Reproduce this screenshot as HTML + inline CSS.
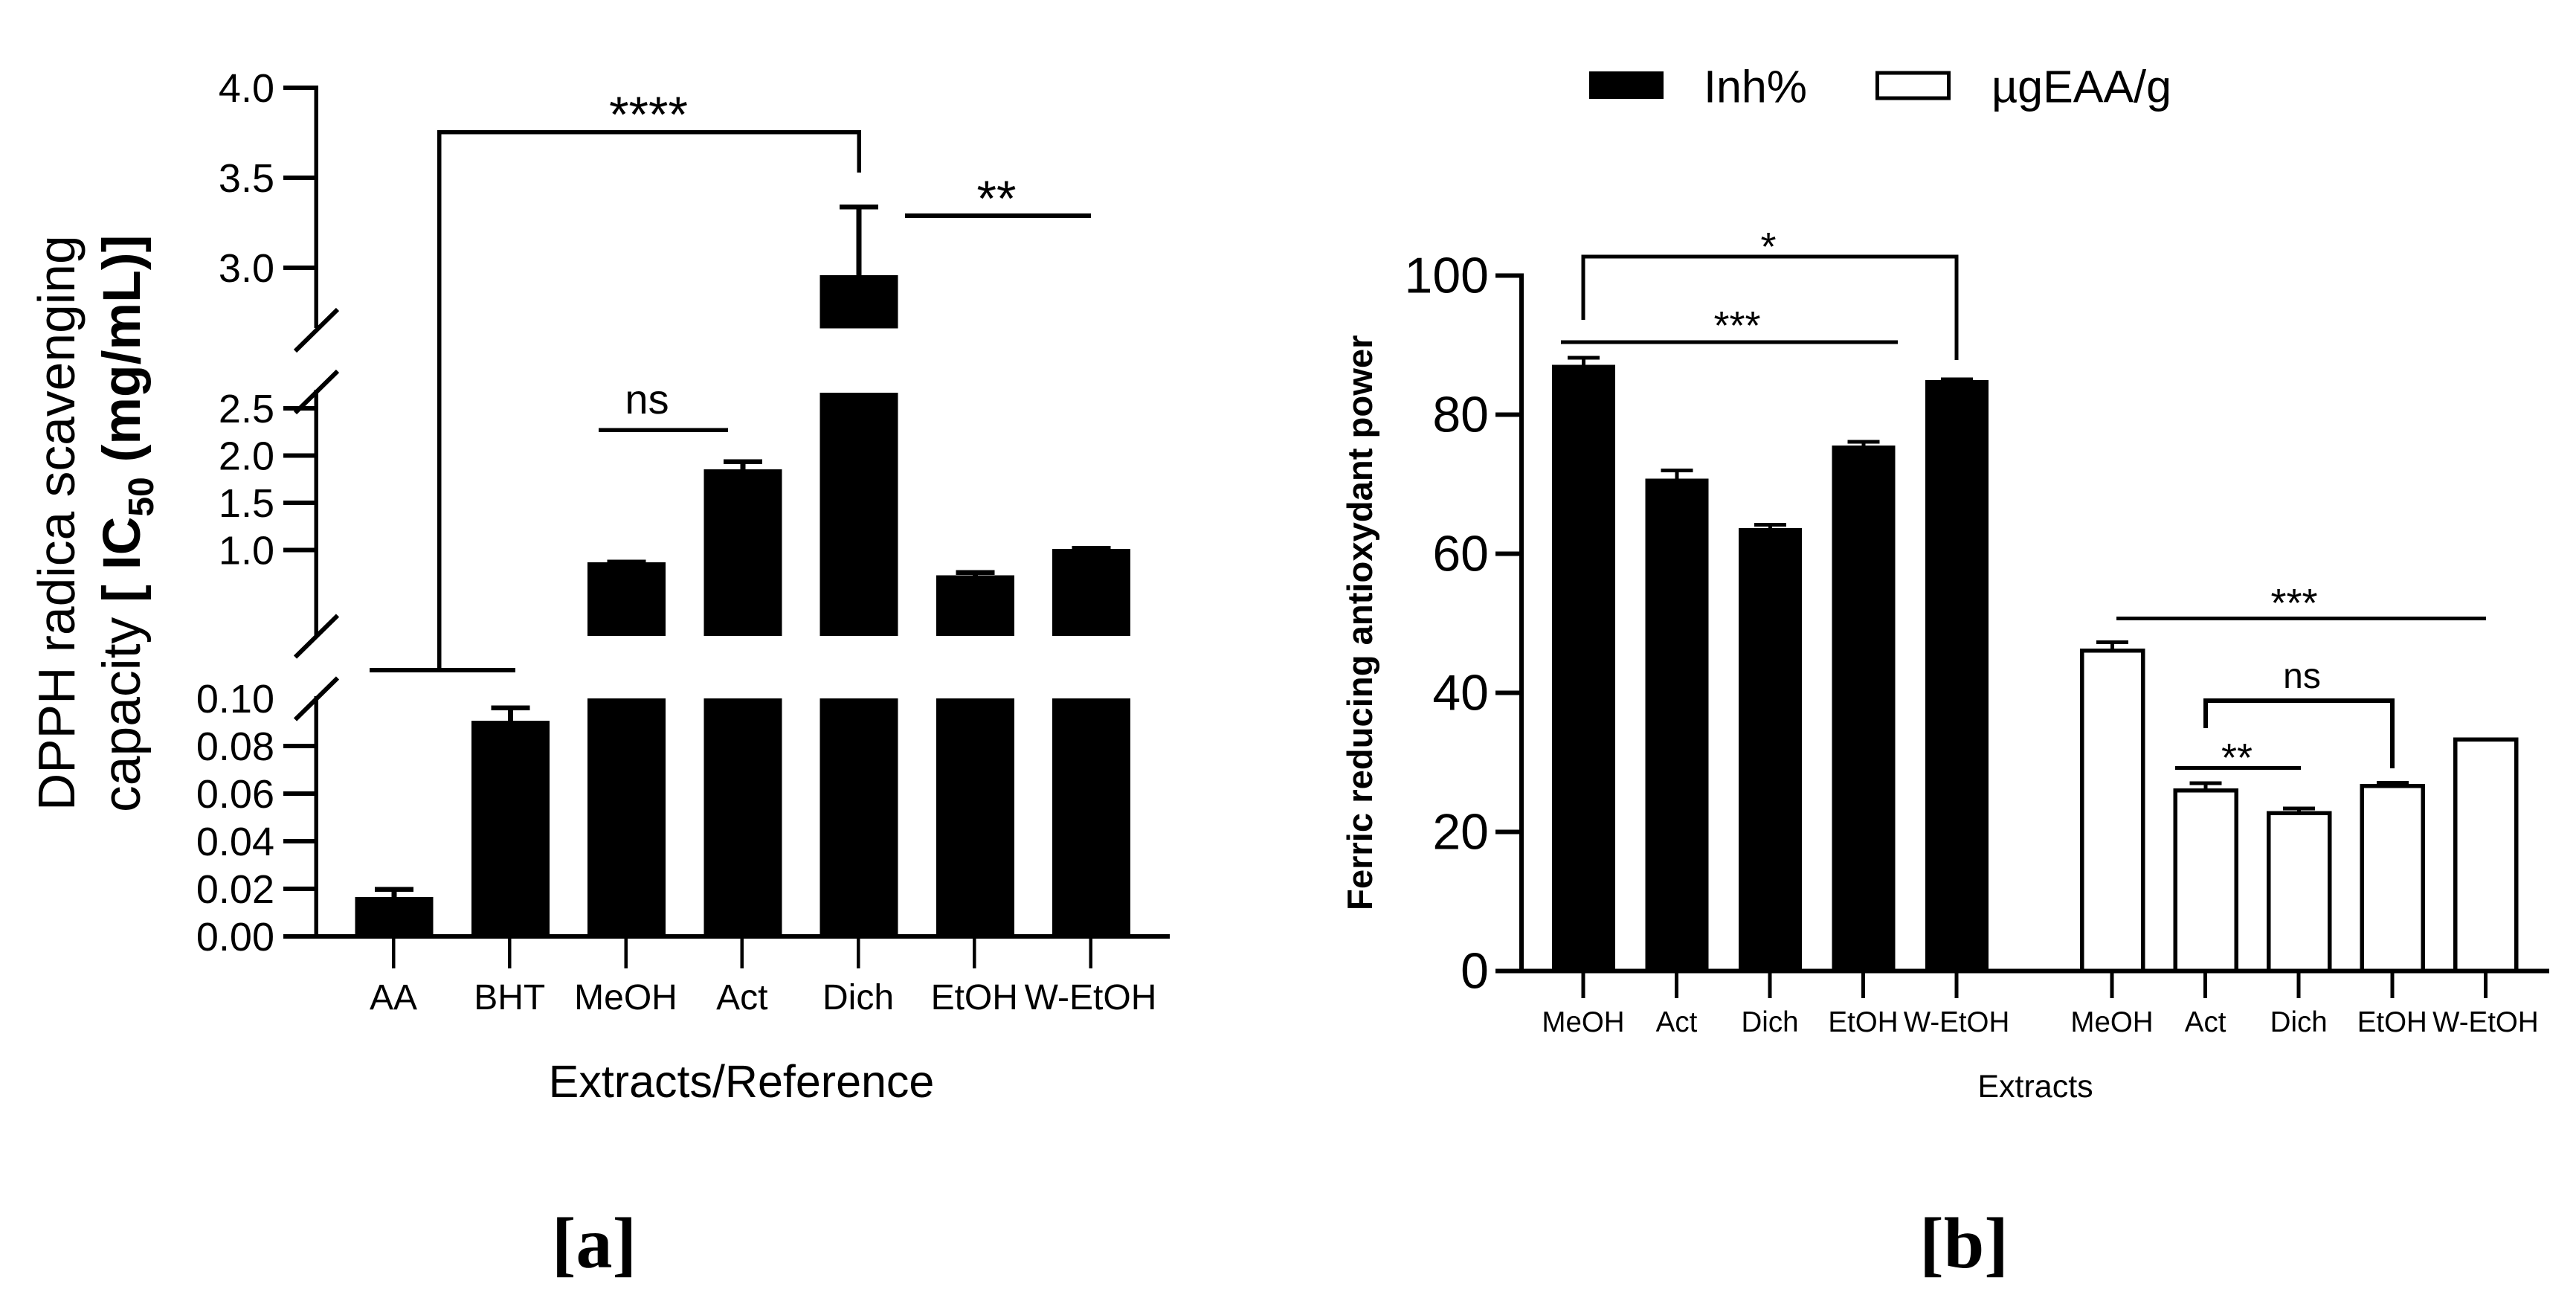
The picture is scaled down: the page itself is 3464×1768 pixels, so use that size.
<!DOCTYPE html>
<html lang="en">
<head>
<meta charset="utf-8">
<title>DPPH radical scavenging and ferric reducing antioxidant power</title>
<style>
  html, body { margin: 0; padding: 0; background: #fff; }
  svg { display: block; font-family: "Liberation Sans", Arial, sans-serif; fill: #000; }
  .ln { fill: none; stroke: #000; stroke-width: 5.5; shape-rendering: crispEdges; }
  .asterisk-a { font-size: 68px; text-anchor: middle; }
  .asterisk-b { font-size: 54px; text-anchor: middle; }
</style>
</head>
<body>
<svg id="figure" xmlns="http://www.w3.org/2000/svg" width="3464" height="1768" viewBox="0 0 3464 1768">
  <rect x="0" y="0" width="3464" height="1768" fill="#fff"></rect>

  <g id="panel-a">
    <text transform="translate(100,1090) rotate(-90)" font-size="69.6">DPPH radica scavenging</text>
    <text transform="translate(188,1092) rotate(-90)" font-size="71.5">capacity <tspan font-weight="700">[ IC</tspan><tspan font-weight="700" font-size="48" dy="18">50</tspan><tspan font-weight="700" dy="-18"> (mg/mL)]</tspan></text>
    <text x="997" y="1475" font-size="61" text-anchor="middle">Extracts/Reference</text>
    <text x="799" y="1704" font-size="98" font-weight="700" text-anchor="middle" style="font-family:'Liberation Serif',serif">[a]</text>

    <polyline class="ln" points="590.5,901 590.5,177.5 1155,177.5 1155,232"></polyline>
    <line class="ln" x1="497" y1="901" x2="693" y2="901" style="stroke-width:6"></line>
    <text class="asterisk-a" x="872" y="177">****</text>
    <line class="ln" x1="805" y1="578" x2="979" y2="578"></line>
    <text x="870" y="556" font-size="56" text-anchor="middle">ns</text>
    <line class="ln" x1="1217" y1="290" x2="1467" y2="290" style="stroke-width:6"></line>
    <text class="asterisk-a" x="1340" y="290">**</text>
  </g>

  <g id="panel-b">
    <text transform="translate(1845,1224) rotate(-90)" font-size="47.2" font-weight="700">Ferric reducing antioxydant power</text>
    <text x="2737" y="1475" font-size="43" text-anchor="middle">Extracts</text>
    <text x="2641" y="1704" font-size="98" font-weight="700" text-anchor="middle" style="font-family:'Liberation Serif',serif">[b]</text>

    <g>
      <rect x="2137" y="96" width="100" height="37" fill="#000"></rect>
      <text x="2291" y="137.5" font-size="61">Inh%</text>
      <rect x="2524.5" y="98" width="96" height="34" fill="#fff" stroke="#000" stroke-width="5"></rect>
      <text x="2678" y="137.5" font-size="61">µgEAA/g</text>
    </g>

    <polyline class="ln" points="2129,430 2129,345 2631,345 2631,484" style="stroke-width:5"></polyline>
    <text class="asterisk-b" x="2378" y="350">*</text>
    <line class="ln" x1="2099" y1="460" x2="2552" y2="460" style="stroke-width:5"></line>
    <text class="asterisk-b" x="2336" y="456">***</text>
    <line class="ln" x1="2846" y1="831.5" x2="3343" y2="831.5" style="stroke-width:5"></line>
    <text class="asterisk-b" x="3085" y="829">***</text>
    <polyline class="ln" points="2966,979 2966,942 3217,942 3217,1033" style="stroke-width:6"></polyline>
    <text x="3095.5" y="925" font-size="48" text-anchor="middle">ns</text>
    <line class="ln" x1="2925" y1="1032.5" x2="3094" y2="1032.5" style="stroke-width:5"></line>
    <text class="asterisk-b" x="3008" y="1037">**</text>
  </g>
</svg>

<script>
// Panel A data
const categoriesA = ['AA', 'BHT', 'MeOH', 'Act', 'Dich', 'EtOH', 'W-EtOH'];
const valuesA = [0.0166, 0.0906, 0.871, 1.854, 2.959, 0.733, 1.013];
const errorsA = [0.0032, 0.0054, 0.003, 0.079, 0.378, 0.029, 0.006];
const ticksLowerA = [0, 0.02, 0.04, 0.06, 0.08, 0.10];
const ticksMiddleA = [1.0, 1.5, 2.0, 2.5];
const ticksUpperA = [3.0, 3.5, 4.0];

// Panel B data
const categoriesB = ['MeOH', 'Act', 'Dich', 'EtOH', 'W-EtOH'];
const inhibition = [87.2, 70.8, 63.7, 75.6, 85.0];
const inhibitionErrors = [1.0, 1.2, 0.5, 0.5, 0.1];
const ugEAA = [46.1, 26.0, 22.7, 26.6, 33.3];
const ugEAAErrors = [1.2, 1.0, 0.7, 0.5, 0];
const ticksB = [0, 20, 40, 60, 80, 100];

const NS = 'http://www.w3.org/2000/svg';

function make(tag, attrs, parent) {
  const node = document.createElementNS(NS, tag);
  for (const key in attrs) node.setAttribute(key, attrs[key]);
  parent.appendChild(node);
  return node;
}
function hv(x1, y1, x2, y2, w, parent) {
  return make('line', { x1: x1, y1: y1, x2: x2, y2: y2, stroke: '#000', 'stroke-width': w, 'shape-rendering': 'crispEdges' }, parent);
}
function box(x0, x1, yA0, yA1, parent) {
  const top = Math.min(yA0, yA1);
  return make('rect', { x: x0, y: top, width: x1 - x0, height: Math.abs(yA1 - yA0), fill: '#000', 'shape-rendering': 'crispEdges' }, parent);
}

/* ---------- Panel A axis functions (broken y axis) ---------- */
const BREAK_LOW = 0.1;
const BREAK_HIGH = 2.665;
function yA(v) {
  if (v <= BREAK_LOW) return 1259 - v * 3200;
  if (v <= BREAK_HIGH) return 739.6 - (v - 1) * 127.2;
  return 360 - (v - 3) * 242;
}
function xA(i) { return 530 + 156.25 * i; }

const panelA = document.getElementById('panel-a');

categoriesA.forEach(function (cat, i) {
  const slug = cat.toLowerCase();
  const cx = xA(i), v = valuesA[i], hi = v + errorsA[i];
  const group = make('g', {}, panelA);
  
  

  const low = box(cx - 52.5, cx + 52.5, yA(0), yA(Math.min(v, BREAK_LOW)), group);
  
  

  if (v > BREAK_LOW) {
    const mid = box(cx - 52.5, cx + 52.5, 855, yA(Math.min(v, BREAK_HIGH)), group);
    
    
  }
  if (v > BREAK_HIGH) {
    const up = box(cx - 52.5, cx + 52.5, 441.5, yA(v), group);
    
    
  }

  const stem = hv(cx, yA(v), cx, yA(hi), 7, group);
  
  

  const cap = hv(cx - 26, yA(hi), cx + 26, yA(hi), 6.5, group);
  
  

  const tick = hv(cx - 1, 1259, cx - 1, 1302, 4.5, group);
  
  

  const label = make('text', { x: cx - 1, y: 1357, 'font-size': 48, 'text-anchor': 'middle' }, group);
  label.textContent = cat;
  
  
});

const axisSegmentsA = [[118, 441], [527, 855], [939, 1262]];
axisSegmentsA.forEach(function (seg, i) {
  const axis = hv(425, seg[0] - 3, 425, seg[1], 5.5, panelA);
  
  
});

const xAxisA = hv(381, yA(0), 1573, yA(0), 6, panelA);



function tickA(v, digits, showTick) {
  const y = yA(v);
  if (showTick) {
    const t = hv(381, y, 425, y, 6, panelA);
    
    
  }
  const label = make('text', { x: 369, y: y + 19, 'font-size': 54, 'text-anchor': 'end' }, panelA);
  label.textContent = v.toFixed(digits);
  
  
}
ticksLowerA.forEach(function (v) { tickA(v, 2, v < BREAK_LOW); });
ticksMiddleA.forEach(function (v) { tickA(v, 1, true); });
ticksUpperA.forEach(function (v) { tickA(v, 1, true); });

const breakCenters = [444, 527, 855.5, 939.5];
breakCenters.forEach(function (cy, i) {
  const slash = make('line', { x1: 397, y1: cy + 28, x2: 454, y2: cy - 28, stroke: '#000', 'stroke-width': 6 }, panelA);
  
  
});

/* ---------- Panel B axis functions ---------- */
function yB(v) { return 1305.7 - v * 9.351; }
function xBlack(i) { return 2129.5 + 125.5 * i; }
function xWhite(i) { return 2840.5 + 125.6 * i; }

const panelB = document.getElementById('panel-b');

function errorB(cx, v, e, slug) {
  if (e <= 0) return;
  const stem = hv(cx, yB(v), cx, yB(v + e), 5, panelB);
  
  
  const cap = hv(cx - 21.5, yB(v + e), cx + 21.5, yB(v + e), 5, panelB);
  
  
}
function labelTickB(cx, cat, slug) {
  const tick = hv(cx - 0.5, yB(0), cx - 0.5, 1342, 5, panelB);
  
  
  const label = make('text', { x: cx - 0.5, y: 1387, 'font-size': 38.5, 'text-anchor': 'middle' }, panelB);
  label.textContent = cat;
  
  
}

categoriesB.forEach(function (cat, i) {
  const slug = 'inh-' + cat.toLowerCase();
  const cx = xBlack(i);
  const bar = box(cx - 42.5, cx + 42.5, yB(0), yB(inhibition[i]), panelB);
  
  
  errorB(cx, inhibition[i], inhibitionErrors[i], slug);
  labelTickB(cx, cat, slug);
});

categoriesB.forEach(function (cat, i) {
  const slug = 'ugeaa-' + cat.toLowerCase();
  const cx = xWhite(i);
  const bar = make('rect', { x: cx - 41, y: yB(ugEAA[i]), width: 82, height: yB(0) - yB(ugEAA[i]), fill: '#fff', stroke: '#000', 'stroke-width': 5.5, 'shape-rendering': 'crispEdges' }, panelB);
  
  
  errorB(cx, ugEAA[i], ugEAAErrors[i], slug);
  labelTickB(cx, cat, slug);
});

const yAxisB = hv(2046, yB(100) - 3, 2046, yB(0), 6, panelB);



const xAxisB = hv(2011, yB(0), 3428, yB(0), 6, panelB);



ticksB.forEach(function (v) {
  const t = hv(2011, yB(v), 2046, yB(v), 6, panelB);
  
  
  const label = make('text', { x: 2002, y: yB(v) + 23, 'font-size': 68, 'text-anchor': 'end' }, panelB);
  label.textContent = String(v);
  
  
});
</script>
</body>
</html>
